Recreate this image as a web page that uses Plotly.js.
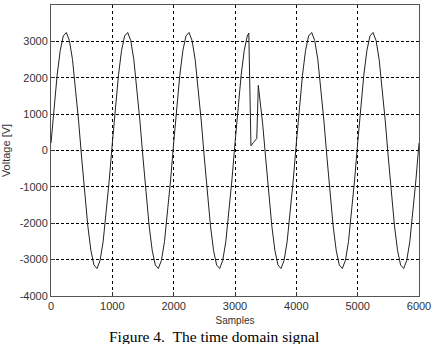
<!DOCTYPE html>
<html>
<head>
<meta charset="utf-8">
<script src="https://cdn.plot.ly/plotly-3.0.1.min.js"></script>
<style>html,body{margin:0;padding:0;background:#fff;}#chart{width:439px;height:344px;}</style>
</head>
<body>
<div id="chart"></div>
<script>
// Samples (x) and voltage values (y)
const samples = [
  0,50,100,150,200,250,300,350,400,450,500,550,600,650,700,750,800,850,900,950,
  1000,1050,1100,1150,1200,1250,1300,1350,1400,1450,1500,1550,1600,1650,1700,1750,1800,1850,1900,1950,
  2000,2050,2100,2150,2200,2250,2300,2350,2400,2450,2500,2550,2600,2650,2700,2750,2800,2850,2900,2950,
  3000,3050,3100,3150,3200,3225,3260,3300,3355,3380,3410,3450,3500,3550,3600,3650,3700,3750,3800,3850,3900,3950,
  4000,4050,4100,4150,4200,4250,4300,4350,4400,4450,4500,4550,4600,4650,4700,4750,4800,4850,4900,4950,
  5000,5050,5100,5150,5200,5250,5300,5350,5400,5450,5500,5550,5600,5650,5700,5750,5800,5850,5900,5950,
  6000
];
const voltage = [
  204,1197,2071,2744,3147,3244,3023,2506,1742,809,-204,-1197,-2071,-2744,-3147,-3244,-3023,-2506,-1742,-809,
  204,1197,2071,2744,3147,3244,3023,2506,1742,809,-204,-1197,-2071,-2744,-3147,-3244,-3023,-2506,-1742,-809,
  204,1197,2071,2744,3147,3244,3023,2506,1742,809,-204,-1197,-2071,-2744,-3147,-3244,-3023,-2506,-1742,-809,
  204,1197,2071,2744,3147,3230,130,220,330,1790,1380,750,-204,-1197,-2071,-2744,-3147,-3244,-3023,-2506,-1742,-809,
  204,1197,2071,2744,3147,3244,3023,2506,1742,809,-204,-1197,-2071,-2744,-3147,-3244,-3023,-2506,-1742,-809,
  204,1197,2071,2744,3147,3244,3023,2506,1742,809,-204,-1197,-2071,-2744,-3147,-3244,-3023,-2506,-1742,-809,
  204
];
const xTicks = [0,1000,2000,3000,4000,5000,6000];
const yTicks = [-4000,-3000,-2000,-1000,0,1000,2000,3000,4000];
const xLabel = 'Samples';
const yLabel = 'Voltage [V]';
const caption = 'Figure 4.  The time domain signal';

const trace = {
  x: samples, y: voltage, type: 'scatter', mode: 'lines',
  line: {color: '#222', width: 1}, hoverinfo: 'skip'
};
const tickFont = {family: 'Liberation Sans, Arial, sans-serif', size: 11, color: '#333'};
const layout = {
  width: 439, height: 344,
  margin: {l: 51, r: 20, t: 5, b: 48},
  paper_bgcolor: '#fff', plot_bgcolor: '#fff',
  showlegend: false,
  xaxis: {
    range: [0, 6000], tickvals: xTicks, ticktext: xTicks.map(String),
    showgrid: true, gridcolor: '#000', gridwidth: 1, griddash: 'dot',
    zeroline: false, showline: true, mirror: true, linecolor: '#555', linewidth: 1,
    ticks: 'inside', ticklen: 4, tickcolor: '#333', tickfont: tickFont,
    title: {text: xLabel, font: {family: 'Liberation Sans, Arial, sans-serif', size: 10, color: '#333'}, standoff: 5}
  },
  yaxis: {
    range: [-4000, 4000], tickvals: yTicks, ticktext: yTicks.map(String),
    showgrid: true, gridcolor: '#000', gridwidth: 1, griddash: '3px,2px',
    zeroline: false, showline: true, mirror: true, linecolor: '#555', linewidth: 1,
    ticks: 'inside', ticklen: 4, tickcolor: '#333', tickfont: tickFont,
    title: {text: yLabel, font: {family: 'Liberation Sans, Arial, sans-serif', size: 11, color: '#333'}, standoff: 6}
  },
  annotations: [{
    text: caption, xref: 'paper', yref: 'paper', x: 0.4416, y: -0.14,
    xanchor: 'center', yanchor: 'middle', showarrow: false,
    font: {family: 'Liberation Serif, Times New Roman, serif', size: 15.5, color: '#000'}
  }]
};
Plotly.newPlot('chart', [trace], layout, {staticPlot: true, displayModeBar: false});
</script>
</body>
</html>
